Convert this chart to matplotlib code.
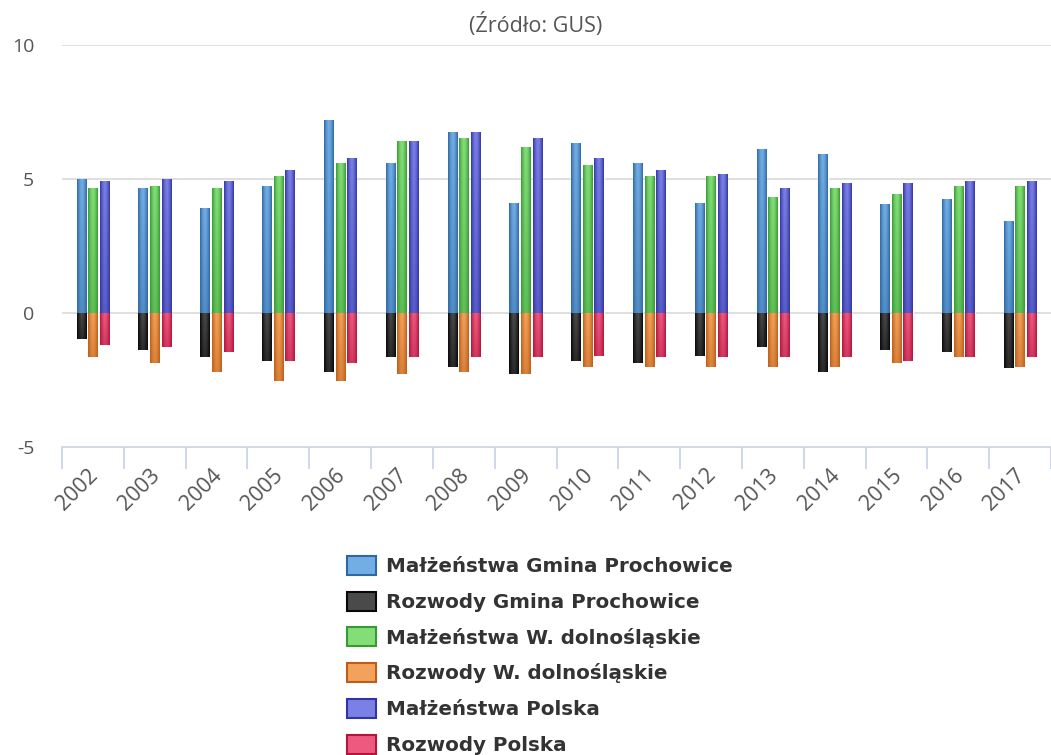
import numpy as np
import matplotlib
matplotlib.use("Agg")
import matplotlib.pyplot as plt
from matplotlib.patches import Patch
from matplotlib.colors import to_rgb
import matplotlib.transforms as mtransforms

plt.rcParams['axes.unicode_minus'] = False
plt.rcParams['font.family'] = ['Open Sans', 'DejaVu Sans']

years = ["2002", "2003", "2004", "2005", "2006", "2007", "2008", "2009",
         "2010", "2011", "2012", "2013", "2014", "2015", "2016", "2017"]

malz_gmina = [5.0, 4.65, 3.91, 4.73, 7.21, 5.6, 6.74, 4.12, 6.34, 5.6, 4.12, 6.13, 5.93, 4.05, 4.25, 3.44]
rozw_gmina = [-0.98, -1.38, -1.65, -1.79, -2.2, -1.65, -2.0, -2.26, -1.79, -1.87, -1.59, -1.26, -2.2, -1.38, -1.45, -2.06]
malz_woj = [4.65, 4.73, 4.65, 5.12, 5.6, 6.4, 6.54, 6.2, 5.53, 5.12, 5.12, 4.32, 4.65, 4.45, 4.73, 4.73]
rozw_woj = [-1.65, -1.87, -2.2, -2.54, -2.54, -2.26, -2.2, -2.26, -2.0, -2.0, -2.0, -2.0, -2.0, -1.87, -1.65, -2.0]
malz_pl = [4.92, 5.0, 4.92, 5.32, 5.8, 6.4, 6.74, 6.54, 5.8, 5.32, 5.2, 4.65, 4.86, 4.86, 4.92, 4.92]
rozw_pl = [-1.19, -1.26, -1.45, -1.79, -1.87, -1.65, -1.65, -1.65, -1.59, -1.65, -1.65, -1.65, -1.65, -1.79, -1.65, -1.65]

labels = ["Małżeństwa Gmina Prochowice", "Rozwody Gmina Prochowice",
          "Małżeństwa W. dolnośląskie", "Rozwody W. dolnośląskie",
          "Małżeństwa Polska", "Rozwody Polska"]

# (light centre, dark edge)
colors = [("#72ade4", "#2e68a4"), ("#4a4a4a", "#080808"),
          ("#84de78", "#379a33"), ("#f2a25a", "#bd5e18"),
          ("#7a80e4", "#3234a4"), ("#ec5a80", "#b5143c")]
series = [malz_gmina, rozw_gmina, malz_woj, rozw_woj, malz_pl, rozw_pl]
stack_index = [0, 0, 1, 1, 2, 2]

fig = plt.figure(figsize=(10.51, 7.55), dpi=100)
ax = fig.add_axes([62/1051, 1 - 447/755, 1 - 62/1051, (447 - 45)/755])

x = np.arange(len(years))
spacing = 0.188
width = 0.150


def gradient_image(light, dark, n=48, m=64):
    lt = np.array(to_rgb(light))
    dk = np.array(to_rgb(dark))
    fx = 1 - np.abs(np.linspace(-1, 1, n)) ** 1.6
    fy = np.linspace(1.0, 0.55, m)  # row 0 = top of image
    f = fy[:, None] * fx[None, :]
    img = dk[None, None, :] + (lt - dk)[None, None, :] * f[:, :, None]
    return np.clip(img, 0, 1)


for vals, (light, dark), si in zip(series, colors, stack_index):
    offs = (si - 1) * spacing
    bars = ax.bar(x + offs, vals, width=width, color=dark, edgecolor='white',
                  linewidth=0.8, zorder=3)
    img = gradient_image(light, dark)
    for b in bars:
        x0 = b.get_x()
        y0 = b.get_y()
        h = b.get_height()
        top = max(y0, y0 + h)
        bot = min(y0, y0 + h)
        im = ax.imshow(img, extent=[x0, x0 + b.get_width(), bot, top], origin='upper',
                       aspect='auto', zorder=3.5, interpolation='bilinear')
        im.set_clip_path(b)

ax.set_xlim(-0.5, len(years) - 0.5)
ax.set_ylim(-5, 10)
ax.set_yticks([-5, 0, 5, 10])
ax.set_yticklabels(["-5", "0", "5", "10"])
ax.grid(axis='y', color='#dcdcdc', linewidth=1.3, zorder=0)
for s in ['top', 'right', 'left']:
    ax.spines[s].set_visible(False)
ax.spines['bottom'].set_color('#ccd6eb')
ax.spines['bottom'].set_linewidth(1.3)
ax.spines['bottom'].set_zorder(1)
ax.tick_params(axis='y', length=0, pad=20, labelsize=14, labelcolor='#555555')

ax.set_xticks(x)
ax.set_xticklabels(years)
ax.set_xticks(np.arange(-0.5, len(years)), minor=True)
ax.tick_params(axis='x', which='major', length=0, labelsize=15.5, labelcolor='#555555', pad=18)
ax.tick_params(axis='x', which='minor', length=16, color='#ccd6eb', width=1.3)
offset = mtransforms.ScaledTranslation(2/100, 0, fig.dpi_scale_trans)
for lab in ax.get_xticklabels():
    lab.set_rotation(45)
    lab.set_ha('right')
    lab.set_va('center')
    lab.set_rotation_mode('anchor')
    lab.set_transform(lab.get_transform() + offset)

fig.text(536/1051, 1 - 25/755, "(Źródło: GUS)", ha='center', va='center',
         fontsize=15.5, color='#555555')

handles = [Patch(facecolor=c[0], edgecolor=c[1], linewidth=1.5) for c in colors]
fig.legend(handles, labels, loc='upper center', bbox_to_anchor=(540/1051, 1 - 538/755),
           frameon=False, prop={'family': 'DejaVu Sans', 'weight': 'bold', 'size': 14.3},
           labelcolor='#333333',
           handlelength=1.47, handleheight=1.1, labelspacing=0.78, handletextpad=0.5,
           ncol=1)

fig.savefig("out.png", dpi=100)
